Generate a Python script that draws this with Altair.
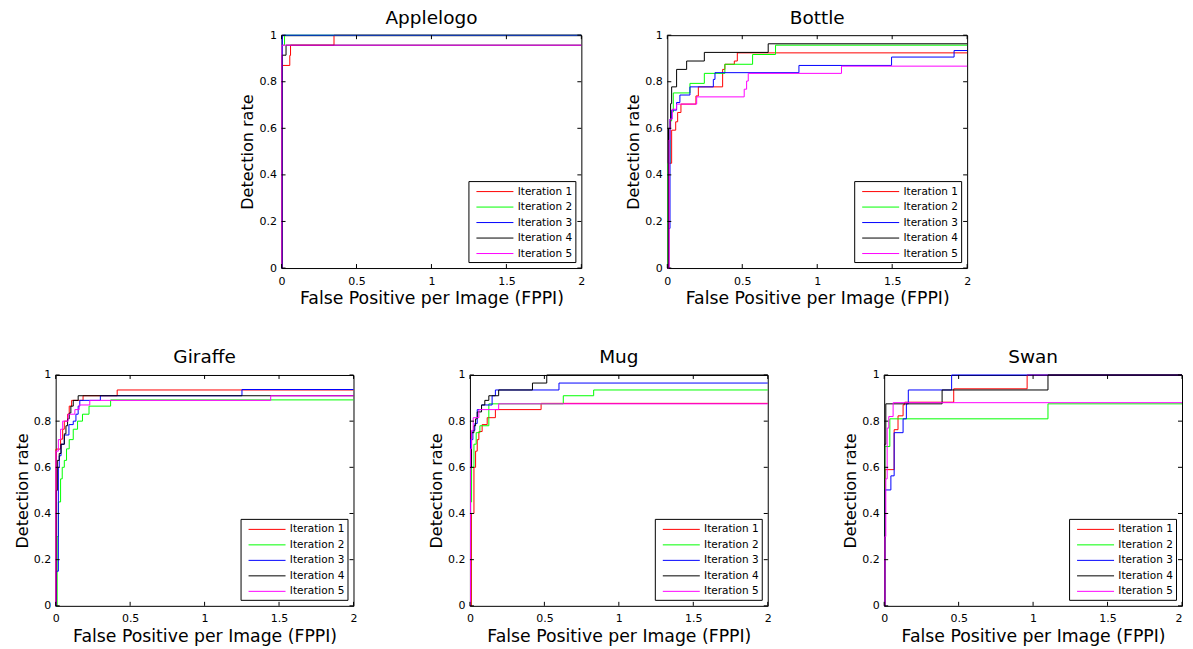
import altair as alt
import pandas as pd

ITER = ["Iteration 1", "Iteration 2", "Iteration 3", "Iteration 4", "Iteration 5"]
COLORS = ["#ff0000", "#00ff00", "#0000ff", "#000000", "#ff00ff"]
X_TICKS = [0, 0.5, 1, 1.5, 2]
Y_TICKS = [0, 0.2, 0.4, 0.6, 0.8, 1]
X_TITLE = "False Positive per Image (FPPI)"
Y_TITLE = "Detection rate"

# ---------------- Applelogo ----------------
apple_it1_x = [0, 0.003, 0.055, 0.06, 0.35, 2]
apple_it1_y = [0, 0.87, 0.913, 0.957, 1.0, 1.0]
apple_it2_x = [0, 0.003, 0.02, 2]
apple_it2_y = [0, 0.957, 1.0, 1.0]
apple_it3_x = [0, 0.005, 2]
apple_it3_y = [0, 1.0, 1.0]
apple_it4_x = [0, 0.003, 0.03, 2]
apple_it4_y = [0, 0.914, 0.957, 0.957]
apple_it5_x = [0, 0.002, 2]
apple_it5_y = [0, 0.957, 0.957]

# ---------------- Bottle ----------------
bottle_it1_x = [0, 0.01, 0.029, 0.056, 0.069, 0.091, 0.191, 0.207, 0.369, 0.384, 0.447, 0.467, 2]
bottle_it1_y = [0, 0.45, 0.592, 0.628, 0.668, 0.704, 0.739, 0.778, 0.853, 0.875, 0.889, 0.924, 0.924]
bottle_it2_x = [0, 0.005, 0.018, 0.029, 0.04, 0.151, 0.247, 0.384, 0.569, 0.722, 2]
bottle_it2_y = [0, 0.45, 0.632, 0.67, 0.752, 0.793, 0.836, 0.875, 0.917, 0.957, 0.957]
bottle_it3_x = [0, 0.01, 0.018, 0.029, 0.062, 0.084, 0.151, 0.307, 0.318, 0.878, 1.496, 1.913, 2]
bottle_it3_y = [0, 0.17, 0.64, 0.678, 0.711, 0.743, 0.778, 0.81, 0.839, 0.87, 0.906, 0.934, 0.934]
bottle_it4_x = [0, 0.008, 0.022, 0.029, 0.062, 0.129, 0.247, 0.673, 2]
bottle_it4_y = [0, 0.6, 0.706, 0.778, 0.853, 0.889, 0.926, 0.963, 0.963]
bottle_it5_x = [0, 0.012, 0.018, 0.033, 0.062, 0.196, 0.513, 0.529, 0.54, 1.162, 2]
bottle_it5_y = [0, 0.55, 0.64, 0.682, 0.704, 0.735, 0.768, 0.803, 0.836, 0.867, 0.867]

# ---------------- Giraffe ----------------
giraffe_it1_x = [0, 0.002, 0.033, 0.047, 0.058, 0.08, 0.091, 0.107, 0.184, 0.413, 2]
giraffe_it1_y = [0, 0.679, 0.722, 0.765, 0.80, 0.83, 0.865, 0.89, 0.91, 0.935, 0.935]
giraffe_it2_x = [0, 0.01, 0.018, 0.033, 0.044, 0.058, 0.073, 0.091, 0.118, 0.147, 0.18, 0.224, 0.369, 2]
giraffe_it2_y = [0, 0.3, 0.45, 0.55, 0.6, 0.63, 0.68, 0.72, 0.765, 0.8, 0.83, 0.865, 0.892, 0.892]
giraffe_it3_x = [0, 0.005, 0.018, 0.024, 0.036, 0.058, 0.089, 0.118, 0.136, 0.151, 0.162, 0.3, 1.251, 2]
giraffe_it3_y = [0, 0.15, 0.6, 0.65, 0.7, 0.74, 0.785, 0.8, 0.83, 0.865, 0.89, 0.91, 0.937, 0.937]
giraffe_it4_x = [0, 0.004, 0.011, 0.024, 0.036, 0.058, 0.069, 0.08, 0.091, 0.102, 0.118, 0.151, 2]
giraffe_it4_y = [0, 0.5, 0.63, 0.66, 0.7, 0.745, 0.78, 0.81, 0.835, 0.865, 0.89, 0.91, 0.91]
giraffe_it5_x = [0, 0.002, 0.018, 0.033, 0.047, 0.084, 0.129, 0.158, 0.229, 1.444, 2]
giraffe_it5_y = [0, 0.67, 0.72, 0.765, 0.80, 0.83, 0.85, 0.87, 0.89, 0.91, 0.91]

# ---------------- Mug ----------------
mug_it1_x = [0, 0.01, 0.027, 0.038, 0.049, 0.06, 0.082, 0.116, 0.171, 0.478, 2]
mug_it1_y = [0, 0.4, 0.6, 0.67, 0.72, 0.755, 0.785, 0.815, 0.85, 0.877, 0.877]
mug_it2_x = [0, 0.005, 0.011, 0.027, 0.042, 0.067, 0.127, 0.627, 0.831, 2]
mug_it2_y = [0, 0.45, 0.6, 0.7, 0.75, 0.78, 0.875, 0.91, 0.935, 0.935]
mug_it3_x = [0, 0.004, 0.02, 0.033, 0.049, 0.078, 0.149, 0.171, 0.598, 2]
mug_it3_y = [0, 0.72, 0.76, 0.79, 0.85, 0.87, 0.91, 0.935, 0.965, 0.965]
mug_it4_x = [0, 0.004, 0.011, 0.027, 0.038, 0.049, 0.078, 0.1, 0.127, 0.193, 0.42, 0.516, 2]
mug_it4_y = [0, 0.6, 0.75, 0.78, 0.81, 0.84, 0.87, 0.89, 0.91, 0.935, 0.965, 1.0, 1.0]
mug_it5_x = [0, 0.004, 0.011, 0.022, 0.06, 0.193, 2]
mug_it5_y = [0, 0.68, 0.76, 0.815, 0.85, 0.875, 0.875]

# ---------------- Swan ----------------
swan_it1_x = [0, 0.005, 0.067, 0.093, 0.127, 0.138, 0.467, 0.96, 2]
swan_it1_y = [0, 0.59, 0.763, 0.823, 0.871, 0.882, 0.94, 1.0, 1.0]
swan_it2_x = [0, 0.004, 0.038, 1.1, 2]
swan_it2_y = [0, 0.69, 0.81, 0.875, 0.875]
swan_it3_x = [0, 0.005, 0.045, 0.067, 0.127, 0.149, 0.162, 0.453, 2]
swan_it3_y = [0, 0.502, 0.563, 0.75, 0.81, 0.875, 0.935, 1.0, 1.0]
swan_it4_x = [0, 0.004, 0.011, 0.389, 1.1, 2]
swan_it4_y = [0, 0.7, 0.875, 0.935, 1.0, 1.0]
swan_it5_x = [0, 0.005, 0.011, 0.02, 0.031, 0.06, 2]
swan_it5_y = [0, 0.3, 0.55, 0.77, 0.82, 0.88, 0.88]

FONT = "DejaVu Sans"
TICK_LEN = 4


def panel(title, xs, ys, h, w=300, flush_last=False):
    rows = []
    for k, (px, py) in enumerate(zip(xs, ys)):
        for i, (a, b) in enumerate(zip(px, py)):
            rows.append({"fppi": a, "rate": b, "iteration": ITER[k], "idx": i})
    df = pd.DataFrame(rows)
    xscale = alt.Scale(domain=[0, 2], nice=False, zero=False)
    yscale = alt.Scale(domain=[0, 1], nice=False, zero=False)
    xargs = dict(values=X_TICKS, format="~g", title=X_TITLE)
    if flush_last:
        xargs["labelAlign"] = {"condition": {"test": "datum.value == 2", "value": "right"},
                               "value": "center"}
    xaxis = alt.Axis(**xargs)
    yaxis = alt.Axis(values=Y_TICKS, format="~g", title=Y_TITLE)
    line = alt.Chart(df).mark_line(interpolate="step-after", strokeWidth=1).encode(
        x=alt.X("fppi:Q", scale=xscale, axis=xaxis),
        y=alt.Y("rate:Q", scale=yscale, axis=yaxis),
        color=alt.Color("iteration:N", scale=alt.Scale(domain=ITER, range=COLORS),
                        legend=alt.Legend(title=None)),
        order="idx:Q",
    )
    xt = pd.DataFrame({"t": X_TICKS})
    yt = pd.DataFrame({"t": Y_TICKS})
    tick = dict(color="black", strokeWidth=1)
    xb = alt.Chart(xt).mark_rule(**tick).encode(
        x=alt.X("t:Q", scale=xscale, axis=xaxis), y=alt.value(h), y2=alt.value(h - TICK_LEN))
    xtp = alt.Chart(xt).mark_rule(**tick).encode(
        x=alt.X("t:Q", scale=xscale, axis=xaxis), y=alt.value(0), y2=alt.value(TICK_LEN))
    yl = alt.Chart(yt).mark_rule(**tick).encode(
        y=alt.Y("t:Q", scale=yscale, axis=yaxis), x=alt.value(0), x2=alt.value(TICK_LEN))
    yr = alt.Chart(yt).mark_rule(**tick).encode(
        y=alt.Y("t:Q", scale=yscale, axis=yaxis), x=alt.value(w - TICK_LEN), x2=alt.value(w))
    return alt.layer(line, xb, xtp, yl, yr).properties(width=w, height=h, title=title)


A = panel("Applelogo",
          [apple_it1_x, apple_it2_x, apple_it3_x, apple_it4_x, apple_it5_x],
          [apple_it1_y, apple_it2_y, apple_it3_y, apple_it4_y, apple_it5_y], 233)
B = panel("Bottle",
          [bottle_it1_x, bottle_it2_x, bottle_it3_x, bottle_it4_x, bottle_it5_x],
          [bottle_it1_y, bottle_it2_y, bottle_it3_y, bottle_it4_y, bottle_it5_y], 233)
G = panel("Giraffe",
          [giraffe_it1_x, giraffe_it2_x, giraffe_it3_x, giraffe_it4_x, giraffe_it5_x],
          [giraffe_it1_y, giraffe_it2_y, giraffe_it3_y, giraffe_it4_y, giraffe_it5_y], 231, w=298)
M = panel("Mug",
          [mug_it1_x, mug_it2_x, mug_it3_x, mug_it4_x, mug_it5_x],
          [mug_it1_y, mug_it2_y, mug_it3_y, mug_it4_y, mug_it5_y], 231, w=298)
S = panel("Swan",
          [swan_it1_x, swan_it2_x, swan_it3_x, swan_it4_x, swan_it5_x],
          [swan_it1_y, swan_it2_y, swan_it3_y, swan_it4_y, swan_it5_y], 231,
          w=298, flush_last=True)

spacer = alt.Chart(pd.DataFrame({"s": [0]})).mark_point(opacity=0).encode(
    x=alt.value(0), y=alt.value(0)
).properties(width=144, height=1, view=alt.ViewBackground(strokeOpacity=0))

top = alt.hconcat(spacer, A, B, spacing=39).resolve_scale(color="independent")
bottom = alt.hconcat(G, M, S, spacing=69.5).resolve_scale(color="independent")

chart = (
    alt.vconcat(top, bottom, spacing=40)
    .resolve_scale(color="independent")
    .properties(padding={"left": 4.7, "top": 0, "right": 0, "bottom": 0})
    .configure(background="white")
    .configure_view(stroke="black", strokeWidth=1)
    .configure_axis(domain=False, ticks=False, tickSize=0, grid=False,
                    labelFont=FONT, labelFontSize=11, labelColor="black",
                    titleFont=FONT, titleFontWeight="normal", titleColor="black")
    .configure_axisX(labelPadding=7, titlePadding=3.6, labelFlush=False, titleFontSize=17.3)
    .configure_axisY(labelPadding=5, titlePadding=3.1, titleFontSize=16)
    .configure_title(font=FONT, fontSize=18.5, fontWeight="normal", color="black",
                     offset=2, frame="group")
    .configure_legend(orient="bottom-right", offset=6, padding=3, rowPadding=2.5,
                      symbolType="M-0.357,0H4.93", symbolSize=196, symbolStrokeWidth=1,
                      labelOffset=31.3, labelFont=FONT, labelFontSize=10.5,
                      labelColor="black", strokeColor="black", fillColor="white", cornerRadius=0)
)

chart.save("out.html", embed_options={"renderer": "svg", "actions": False})
